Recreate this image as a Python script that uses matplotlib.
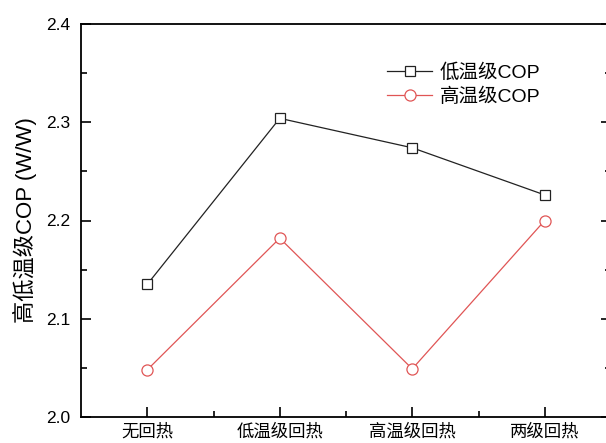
import numpy as np
import matplotlib.pyplot as plt
from matplotlib.ticker import MultipleLocator, FixedLocator

plt.rcParams['font.family'] = ['Liberation Sans', 'Noto Sans CJK SC', 'DejaVu Sans']

categories = ['无回热', '低温级回热', '高温级回热', '两级回热']
cop_low = [2.135, 2.304, 2.274, 2.226]
cop_high = [2.048, 2.182, 2.049, 2.200]
series_names = ['低温级COP', '高温级COP']

x = np.arange(len(categories))

fig = plt.figure(figsize=(6.06, 4.43), dpi=100)
# right spine sits just outside the picture in the reference
ax = fig.add_axes([81/606, 1 - 417/443, (611 - 81)/606, (417 - 24)/443])

ax.plot(x, cop_low, color='#222222', lw=0.9, marker='s', ms=7,
        mfc='white', mec='#222222', mew=0.9, label=series_names[0])
ax.plot(x, cop_high, color='#e05555', lw=0.9, marker='o', ms=8,
        mfc='white', mec='#e05555', mew=0.9, label=series_names[1])

ax.set_xlim(-0.5, 3.5)
ax.set_ylim(2.0, 2.4)
ax.set_xticks(x)
ax.set_xticklabels(categories, family=['Noto Sans CJK SC'], fontsize=12)
ax.xaxis.set_minor_locator(FixedLocator(x[:-1] + 0.5))
ax.yaxis.set_major_locator(MultipleLocator(0.1))
ax.yaxis.set_minor_locator(MultipleLocator(0.05))
ax.tick_params(which='both', direction='in', top=False, right=True, width=1.2)
ax.tick_params(which='major', length=7, labelsize=12.5)
ax.tick_params(which='minor', length=4)
ax.tick_params(axis='y', pad=8)
ax.tick_params(axis='x', pad=4)
for s in ax.spines.values():
    s.set_linewidth(1.3)

ax.set_ylabel('高低温级COP (W/W)', fontsize=16, labelpad=6)

leg = ax.legend(loc='upper left', bbox_to_anchor=(0.545, 0.945), frameon=False,
                prop={'size': 14},
                handlelength=2.3, handletextpad=0.4, labelspacing=0.3)

fig.savefig('out.png', dpi=100)
